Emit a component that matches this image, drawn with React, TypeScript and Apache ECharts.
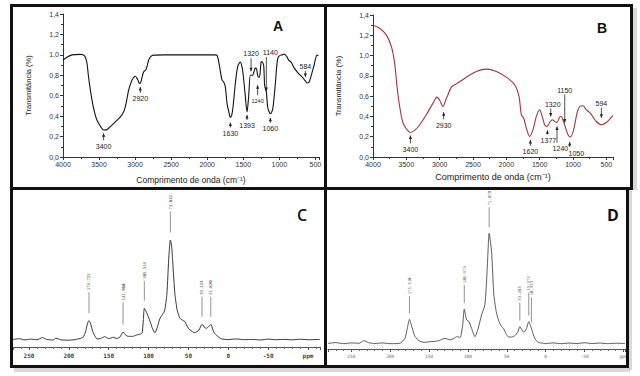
import React, { useEffect, useRef } from "react";
import * as echarts from "echarts";

// ---------- Panel A : FTIR (black) ----------
const irAWavenumber = [4000, 3950, 3875, 3760, 3700, 3670, 3645, 3598, 3560, 3528, 3480, 3437, 3390, 3340, 3298, 3250, 3205, 3160, 3136, 3110, 3090, 3043, 2997, 2965, 2938, 2920, 2904, 2882, 2849, 2830, 2813, 2780, 2743, 2600, 2400, 2200, 2000, 1900, 1864, 1828, 1795, 1772, 1749, 1725, 1700, 1679, 1660, 1642, 1610, 1578, 1541, 1520, 1503, 1475, 1448, 1426, 1402, 1385, 1370, 1350, 1333, 1315, 1301, 1285, 1270, 1260, 1250, 1235, 1218, 1210, 1204, 1190, 1180, 1162, 1145, 1125, 1105, 1087, 1055, 1023, 986, 960, 931, 893, 871, 838, 802, 754, 685, 639, 616, 590, 570, 524, 477, 458];
const irATransmittance = [0.95, 0.975, 1.0, 1.005, 0.99, 0.93, 0.78, 0.556, 0.43, 0.36, 0.3, 0.265, 0.268, 0.3, 0.327, 0.36, 0.392, 0.44, 0.49, 0.58, 0.654, 0.752, 0.791, 0.758, 0.72, 0.735, 0.78, 0.833, 0.856, 0.9, 0.948, 0.985, 0.997, 1.0, 1.0, 1.0, 1.0, 1.0, 0.995, 0.882, 0.752, 0.735, 0.686, 0.523, 0.44, 0.386, 0.41, 0.49, 0.719, 0.882, 0.93, 0.89, 0.817, 0.62, 0.441, 0.588, 0.8, 0.8, 0.8, 0.84, 0.87, 0.86, 0.8, 0.78, 0.8, 0.88, 0.935, 0.93, 0.9, 0.8, 0.7, 0.66, 0.637, 0.49, 0.45, 0.424, 0.44, 0.49, 0.719, 0.964, 0.997, 1.0, 1.007, 0.98, 0.948, 0.93, 0.882, 0.833, 0.784, 0.745, 0.725, 0.73, 0.768, 0.882, 0.997, 0.99];
const irAPeakWavenumber = [3437, 2928, 1679, 1448, 1392, 1301, 1180, 1125, 639];
const irAPeakValue = [0.262, 0.725, 0.386, 0.441, 0.83, 0.8, 0.637, 0.424, 0.745];
const irAPeakLabels = ["3400", "2920", "1630", "1393", "1320", "1240", "1140", "1060", "584"];

// ---------- Panel B : FTIR (red) ----------
const irBWavenumber = [4000, 3900, 3800, 3724, 3675, 3640, 3600, 3550, 3490, 3440, 3375, 3300, 3200, 3100, 3040, 3000, 2950, 2910, 2875, 2825, 2750, 2600, 2450, 2300, 2150, 2000, 1875, 1810, 1775, 1740, 1700, 1650, 1600, 1550, 1500, 1460, 1425, 1390, 1350, 1310, 1275, 1240, 1200, 1175, 1150, 1110, 1075, 1040, 990, 940, 900, 850, 800, 740, 650, 575, 500, 400];
const irBTransmittance = [1.3, 1.27, 1.204, 1.089, 0.925, 0.695, 0.498, 0.335, 0.27, 0.242, 0.262, 0.318, 0.416, 0.531, 0.59, 0.56, 0.498, 0.56, 0.614, 0.689, 0.721, 0.787, 0.843, 0.866, 0.843, 0.787, 0.712, 0.597, 0.416, 0.384, 0.285, 0.203, 0.27, 0.4, 0.466, 0.394, 0.318, 0.302, 0.34, 0.367, 0.35, 0.34, 0.394, 0.4, 0.365, 0.285, 0.22, 0.197, 0.27, 0.433, 0.498, 0.505, 0.466, 0.433, 0.35, 0.318, 0.34, 0.41];
const irBPeakWavenumber = [3439, 2940, 1639, 1384, 1334, 1240, 1124, 1050, 574];
const irBPeakValue = [0.242, 0.5, 0.203, 0.302, 0.35, 0.34, 0.31, 0.197, 0.318];
const irBPeakLabels = ["3400", "2930", "1620", "1377", "1320", "1240", "1150", "1050", "594"];

// ---------- Panel C : 13C NMR ----------
const nmrCPpm = [270, 262, 255, 248, 240, 233, 228, 220, 216, 210, 200, 192, 186, 182, 179, 177, 175, 173, 170, 167, 164.6, 160, 155, 150, 144, 140, 136, 132, 128, 125, 120, 115, 110, 108, 106.5, 105.3, 102, 98, 95, 92, 89, 85.6, 80, 77, 74.5, 72.6, 71, 69.7, 67, 64, 60.6, 57, 54.4, 51, 48, 42, 37, 33, 29, 27.5, 24.5, 22, 19, 17, 12, 8.8, 0, -10, -20, -30, -40, -50, -60, -70, -80, -90, -100, -115];
const nmrCIntensity = [5.0, 5.4, 4.7, 5.2, 4.8, 6.2, 5.0, 4.6, 5.8, 4.7, 4.5, 4.9, 5.6, 6.5, 10, 14.5, 17.3, 16, 10.1, 7, 5.3, 5.6, 6.8, 5.5, 6.4, 5.6, 6.5, 9.9, 7.5, 7, 7, 7.9, 8.5, 9.4, 18, 25.4, 22.1, 16.7, 12, 9.4, 13, 18.9, 23.7, 35, 60, 70.4, 66, 56, 35, 24, 18.9, 17.5, 16.7, 13, 11.2, 9.4, 11, 14.9, 12.5, 12.3, 13.5, 14.9, 11, 8.8, 6.5, 5.3, 4.9, 5.3, 4.8, 5.0, 4.6, 5.2, 4.8, 5.0, 4.7, 5.1, 4.8, 5.0];
const nmrCPeakPpm = [174.7, 132.0, 105.3, 72.6, 33.0, 22.0];
const nmrCPeakIntensity = [17.3, 9.9, 25.4, 70.4, 14.9, 14.9];
const nmrCPeakLabels = ["174.722", "131.980", "105.314", "72.632", "33.224", "21.830"];

// ---------- Panel D : 13C NMR ----------
const nmrDPpm = [280, 270, 260, 250, 240, 234, 228, 220, 210, 200, 187, 181, 178, 175.2, 172.2, 168, 161.5, 155, 148.7, 140, 135, 129.5, 123, 118, 114.5, 110, 106.8, 104.7, 101.7, 98.7, 95.3, 91, 86.8, 82.5, 78.2, 75.2, 72.7, 69.6, 66.7, 63.2, 60, 56.8, 53.8, 51, 48.3, 44, 39.7, 36, 33.3, 30.5, 28.2, 25, 21.8, 18.4, 14.1, 10, 5.5, 0, -10, -20, -30, -40, -50, -60, -70, -80, -90, -102];
const nmrDIntensity = [3.7, 4.2, 3.5, 4.0, 3.8, 5.5, 4.2, 3.6, 4.0, 3.5, 3.9, 7.0, 13.6, 19.5, 14.7, 8.1, 5.0, 4.4, 4.8, 5.2, 6.0, 7.0, 6.0, 7.0, 8.1, 7.6, 15.8, 26.3, 19.1, 18, 13.6, 8.1, 13.6, 22.4, 29, 53, 76.1, 64, 35.5, 23.5, 18, 14.7, 13.2, 10, 8.1, 7.8, 8.8, 11, 14.7, 12.5, 11, 13, 18, 13.6, 7.0, 4.5, 3.9, 3.6, 4.0, 3.5, 3.9, 3.6, 4.1, 3.6, 3.9, 3.5, 3.8, 3.6];
const nmrDPeakPpm = [175.2, 104.7, 72.7, 33.3, 21.8, 18.4];
const nmrDPeakIntensity = [19.5, 26.3, 76.1, 14.7, 18, 13.6];
const nmrDPeakLabels = ["175.310", "105.474", "71.879", "33.285", "22.375", "18.423"];

// ---------- Texts ----------
const panelLetters = ["A", "B", "C", "D"];
const irYName = "Transmitância (%)";
const irXName = "Comprimento de onda (cm⁻¹)";
const nmrUnit = "ppm";

// ---------- Annotation styling (pixels) ----------
const irAAnnStyle = {
  side: ["below", "below", "below", "below", "above", "below", "above", "below", "above"],
  gap: [3, 4, 5, 3, 1, 10, 1, 4, 4],
  stem: [7, 6, 5, 5, 13, 10, 34, 5, 6],
  dx: [0, 0, 0, 0, 0, 0, 4, 0, 0],
  size: [7, 7, 7, 7, 7, 5.5, 7, 7, 7],
};
const irBAnnStyle = {
  side: ["below", "below", "below", "below", "above", "below", "above", "below", "above"],
  gap: [3, 6, 3.5, 4, 5, 4, 3, 5, 7],
  stem: [8, 7, 6, 4, 8, 16, 28, 5, 10],
  dx: [0, 0, 0, 1, 2, 3.4, 0, 6.7, 0],
  size: [7, 7, 7, 7, 7, 7, 7, 7, 7],
};
const nmrCStem = [21, 22, 20, 21, 20, 20];
const nmrDStem = [17, 18, 20, 18, 23, 25];

const zip = (a: number[], b: number[]) => a.map((v, i) => [v, b[i]]);

const irRender = (labels: string[], st: any) => (params: any, api: any) => {
  const i = params.dataIndex;
  const p = api.coord([api.value(0), api.value(1)]);
  const dir = st.side[i] === "below" ? 1 : -1;
  const x = p[0];
  const tip = p[1] + dir * st.gap[i];
  const tail = tip + dir * st.stem[i];
  return {
    type: "group",
    children: [
      { type: "line", shape: { x1: x, y1: tip, x2: x, y2: tail }, style: { stroke: "#222", lineWidth: 0.8 } },
      {
        type: "polygon",
        shape: { points: [[x, tip], [x - 1.6, tip + dir * 3.5], [x + 1.6, tip + dir * 3.5]] },
        style: { fill: "#222" },
      },
      {
        type: "text",
        x: x + st.dx[i],
        y: dir > 0 ? tail + 2.5 : tail - 1,
        style: {
          text: labels[i],
          fontSize: st.size[i],
          fontFamily: "Liberation Sans",
          fill: "#222",
          align: "center",
          verticalAlign: dir > 0 ? "top" : "bottom",
        },
      },
    ],
  };
};

const nmrRender = (labels: string[], stems: number[], gap: number, color: string) => (params: any, api: any) => {
  const i = params.dataIndex;
  const p = api.coord([api.value(0), api.value(1)]);
  const y1 = p[1] - gap;
  const y2 = y1 - stems[i];
  return {
    type: "group",
    children: [
      { type: "line", shape: { x1: p[0], y1, x2: p[0], y2 }, style: { stroke: "#777", lineWidth: 0.8 } },
      {
        type: "text",
        x: p[0],
        y: y2 - 2,
        rotation: Math.PI / 2,
        style: { text: labels[i], fontSize: 4, fontFamily: "DejaVu Sans Mono", fill: color, align: "left", verticalAlign: "middle" },
      },
    ],
  };
};

const irXAxis = (grid: number, min: number, nameGap: number, nameSize: number) => ({
  gridIndex: grid,
  type: "value",
  inverse: true,
  min,
  max: 4000,
  splitNumber: 7,
  name: irXName,
  nameLocation: "middle",
  nameGap,
  nameTextStyle: { fontSize: nameSize, fontFamily: "Liberation Sans", color: "#222" },
  axisLine: { lineStyle: { color: "#333", width: 1 } },
  axisTick: { inside: false, length: 3, lineStyle: { color: "#333" } },
  minorTick: { show: true, splitNumber: 2, length: 2, lineStyle: { color: "#333" } },
  splitLine: { show: false },
  axisLabel: {
    fontSize: 7,
    fontFamily: "Liberation Sans",
    color: "#333",
    margin: 4,
    showMinLabel: false,
    formatter: (v: number) => (v % 500 === 0 ? String(v) : ""),
  },
});

const irYAxis = (grid: number) => ({
  gridIndex: grid,
  type: "value",
  min: 0,
  max: 1.4,
  interval: 0.2,
  name: irYName,
  nameLocation: "middle",
  nameRotate: 90,
  nameGap: 31,
  nameTextStyle: { fontSize: 7.5, fontFamily: "Liberation Sans", color: "#222" },
  axisLine: { show: true, lineStyle: { color: "#333", width: 1 } },
  axisTick: { show: true, inside: false, length: 3, lineStyle: { color: "#333" } },
  minorTick: { show: true, splitNumber: 2, length: 2, lineStyle: { color: "#333" } },
  splitLine: { show: false },
  axisLabel: {
    fontSize: 7,
    fontFamily: "Liberation Sans",
    color: "#333",
    margin: 4,
    formatter: (v: number) => v.toFixed(1).replace(".", ","),
  },
});

const nmrXAxis = (grid: number, min: number, max: number, size: number, color: string, bold: boolean) => ({
  gridIndex: grid,
  type: "value",
  inverse: true,
  min,
  max,
  splitNumber: 8,
  axisLine: { lineStyle: { color: "#555", width: 1 } },
  axisTick: { inside: false, length: 3, lineStyle: { color: "#555" } },
  minorTick: { show: true, splitNumber: 5, length: 2, lineStyle: { color: "#666" } },
  splitLine: { show: false },
  axisLabel: {
    fontSize: size,
    fontFamily: "DejaVu Sans Mono",
    fontWeight: bold ? "bold" : "normal",
    color,
    margin: 5,
    showMinLabel: false,
    showMaxLabel: false,
    formatter: (v: number) => (v === -100 ? nmrUnit : v % 50 === 0 ? String(v) : ""),
  },
});

const frame = (x: number, y: number, w: number, h: number) => ({
  type: "rect",
  z: 100,
  shape: { x, y, width: w, height: h },
  style: { fill: "none", stroke: "#111", lineWidth: 3 },
});

export default function App() {
  const ref = useRef<HTMLDivElement>(null);
  useEffect(() => {
    if (!ref.current) return;
    document.body.style.margin = "0";
    const chart = echarts.init(ref.current, null, { renderer: "svg" });
    chart.setOption({
      animation: false,
      backgroundColor: "#fff",
      grid: [
        { left: 63, top: 14, width: 256, height: 143 },
        { left: 373, top: 15, width: 240, height: 142 },
        { left: 13, top: 195, width: 307, height: 152 },
        { left: 328, top: 197, width: 297, height: 152 },
      ],
      xAxis: [
        irXAxis(0, 450, 18.5, 8.5),
        irXAxis(1, 400, 15, 9),
        nmrXAxis(2, -115, 270, 6, "#444", true),
        nmrXAxis(3, -102, 280, 4.5, "#666", false),
      ],
      yAxis: [
        irYAxis(0),
        irYAxis(1),
        { gridIndex: 2, type: "value", min: 0, max: 100, show: false },
        { gridIndex: 3, type: "value", min: 0, max: 100, show: false },
      ],
      series: [
        {
          type: "line", xAxisIndex: 0, yAxisIndex: 0, data: zip(irAWavenumber, irATransmittance),
          showSymbol: false, symbol: "none", smooth: 0.3, lineStyle: { color: "#111", width: 1.1 }, silent: true,
        },
        {
          type: "custom", xAxisIndex: 0, yAxisIndex: 0, data: zip(irAPeakWavenumber, irAPeakValue),
          renderItem: irRender(irAPeakLabels, irAAnnStyle), silent: true, z: 5,
        },
        {
          type: "line", xAxisIndex: 1, yAxisIndex: 1, data: zip(irBWavenumber, irBTransmittance),
          showSymbol: false, symbol: "none", smooth: 0.3, lineStyle: { color: "#a3353a", width: 1.1 }, silent: true,
        },
        {
          type: "custom", xAxisIndex: 1, yAxisIndex: 1, data: zip(irBPeakWavenumber, irBPeakValue),
          renderItem: irRender(irBPeakLabels, irBAnnStyle), silent: true, z: 5,
        },
        {
          type: "line", xAxisIndex: 2, yAxisIndex: 2, data: zip(nmrCPpm, nmrCIntensity),
          showSymbol: false, symbol: "none", smooth: 0.2, lineStyle: { color: "#222", width: 0.9 }, silent: true,
        },
        {
          type: "custom", xAxisIndex: 2, yAxisIndex: 2, data: zip(nmrCPeakPpm, nmrCPeakIntensity),
          renderItem: nmrRender(nmrCPeakLabels, nmrCStem, 7.5, "#333"), silent: true, z: 5,
        },
        {
          type: "line", xAxisIndex: 3, yAxisIndex: 3, data: zip(nmrDPpm, nmrDIntensity),
          showSymbol: false, symbol: "none", smooth: 0.2, lineStyle: { color: "#333", width: 0.8 }, silent: true,
        },
        {
          type: "custom", xAxisIndex: 3, yAxisIndex: 3, data: zip(nmrDPeakPpm, nmrDPeakIntensity),
          renderItem: nmrRender(nmrDPeakLabels, nmrDStem, 6, "#555"), silent: true, z: 5,
        },
      ],
      graphic: [
        { type: "rect", z: 90, shape: { x: 633, y: 8, width: 4, height: 182 }, style: { fill: "rgba(0,0,0,0.15)" } },
        { type: "rect", z: 90, shape: { x: 629, y: 190, width: 3, height: 180 }, style: { fill: "rgba(0,0,0,0.15)" } },
        { type: "rect", z: 90, shape: { x: 14, y: 368, width: 616, height: 4 }, style: { fill: "rgba(0,0,0,0.15)" } },
        frame(11.5, 5.5, 314, 183),
        frame(325.5, 5.5, 306, 183),
        frame(11.5, 188.5, 314, 178),
        frame(325.5, 188.5, 302, 178),
        {
          type: "text", z: 100, x: 278, y: 26,
          style: { text: panelLetters[0], fontSize: 14, fontWeight: "bold", fontFamily: "Liberation Sans", fill: "#111", align: "center", verticalAlign: "middle" },
        },
        {
          type: "text", z: 100, x: 602, y: 28,
          style: { text: panelLetters[1], fontSize: 14, fontWeight: "bold", fontFamily: "Liberation Sans", fill: "#111", align: "center", verticalAlign: "middle" },
        },
        {
          type: "text", z: 100, x: 302, y: 215,
          style: { text: panelLetters[2], fontSize: 16, fontWeight: 600, fontFamily: "Open Sans", fill: "#111", align: "center", verticalAlign: "middle" },
        },
        {
          type: "text", z: 100, x: 613, y: 215,
          style: { text: panelLetters[3], fontSize: 16, fontWeight: "bold", fontFamily: "Open Sans", fill: "#111", align: "center", verticalAlign: "middle" },
        },
      ],
    });
    return () => chart.dispose();
  }, []);
  return <div ref={ref} style={{ position: "absolute", left: 0, top: 0, width: 640, height: 376, background: "#fff" }} />;
}
